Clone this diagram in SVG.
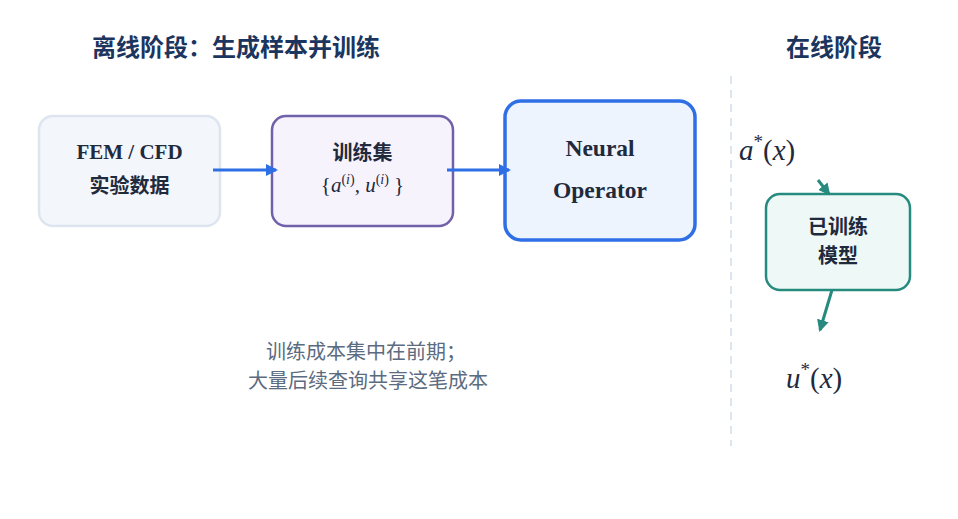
<svg xmlns="http://www.w3.org/2000/svg" width="958" height="519" viewBox="0 0 958 519">
<style>
.title{font-family:"Noto Sans CJK SC","Noto Sans",sans-serif;font-weight:700;font-size:24px;fill:#1c355e;}
.lbl{font-family:"Noto Sans CJK SC","Noto Sans",sans-serif;font-weight:700;font-size:20px;fill:#1f2a3d;text-anchor:middle;}
.ser{font-family:"Liberation Serif","DejaVu Serif",serif;font-weight:700;fill:#1f2a3d;text-anchor:middle;}
.math{font-family:"Liberation Serif","DejaVu Serif",serif;font-style:italic;fill:#1f2a3d;}
.up{font-style:normal;}
.cap{font-family:"Noto Sans CJK SC","Noto Sans",sans-serif;font-size:20px;fill:#5b6b80;text-anchor:middle;}
</style>
<defs>
<marker id="ab" markerWidth="12" markerHeight="12" refX="10" refY="6" orient="auto" markerUnits="userSpaceOnUse"><path d="M0,0 L12,6 L0,12 Z" fill="#2f6fe6"/></marker>
<marker id="at" markerWidth="12" markerHeight="12" refX="10" refY="6" orient="auto" markerUnits="userSpaceOnUse"><path d="M0,0 L12,6 L0,12 Z" fill="#268a7e"/></marker>
</defs>
<rect width="958" height="519" fill="#ffffff"/>
<text class="title" x="92" y="56">离线阶段：生成样本并训练</text>
<text class="title" x="786" y="56">在线阶段</text>
<line x1="731" y1="76" x2="731" y2="446" stroke="#dde5f0" stroke-width="2" stroke-dasharray="8,6"/>
<g id="n-data">
<rect x="39" y="116" width="181" height="110" rx="14" fill="#f3f6fb" stroke="#dde5f0" stroke-width="2.5"/>
<text class="ser" x="129.5" y="159" font-size="21">FEM / CFD</text>
<text class="lbl" x="129.5" y="193">实验数据</text>
</g>
<g id="n-train">
<rect x="272" y="116" width="181" height="110" rx="14" fill="#f7f3fd" stroke="#7160aa" stroke-width="2.5"/>
<text class="lbl" x="362.5" y="160">训练集</text>
<text class="math" x="362.5" y="192" font-size="21" text-anchor="middle"><tspan class="up">{</tspan>a<tspan dy="-8" font-size="14"><tspan class="up">(</tspan>i<tspan class="up">)</tspan></tspan><tspan dy="8" class="up">, </tspan>u<tspan dy="-8" font-size="14"><tspan class="up">(</tspan>i<tspan class="up">)</tspan></tspan><tspan dy="8" class="up"> }</tspan></text>
</g>
<g id="n-op">
<rect x="505" y="101" width="190" height="139" rx="16" fill="#eef4fe" stroke="#2f6fe6" stroke-width="3.5"/>
<text class="ser" x="600" y="156" font-size="23.5">Neural</text>
<text class="ser" x="600" y="198" font-size="23.5">Operator</text>
</g>
<g id="n-in">
<text class="math" x="739" y="160" font-size="29">a<tspan dy="-12" font-size="19" class="up">*</tspan><tspan dy="12" class="up">(</tspan>x<tspan class="up">)</tspan></text>
</g>
<g id="n-model">
<rect x="766" y="194" width="144" height="96" rx="14" fill="#eef8f6" stroke="#268a7e" stroke-width="2.5"/>
<text class="lbl" x="838" y="234" font-size="19">已训练</text>
<text class="lbl" x="838" y="263" font-size="19">模型</text>
</g>
<g id="n-out">
<text class="math" x="786" y="388" font-size="29">u<tspan dy="-12" font-size="19" class="up">*</tspan><tspan dy="12" class="up">(</tspan>x<tspan class="up">)</tspan></text>
</g>
<g id="caption">
<text class="cap" x="366" y="359">训练成本集中在前期；</text>
<text class="cap" x="368" y="388">大量后续查询共享这笔成本</text>
</g>
<g id="connectors">
<line x1="213" y1="170" x2="276" y2="170" stroke="#2f6fe6" stroke-width="3" marker-end="url(#ab)"/>
<line x1="447" y1="170" x2="509" y2="170" stroke="#2f6fe6" stroke-width="3" marker-end="url(#ab)"/>
<line x1="818" y1="180" x2="829" y2="194" stroke="#268a7e" stroke-width="3" marker-end="url(#at)"/>
<line x1="832" y1="290" x2="820" y2="330" stroke="#268a7e" stroke-width="3" marker-end="url(#at)"/>
</g>
</svg>
